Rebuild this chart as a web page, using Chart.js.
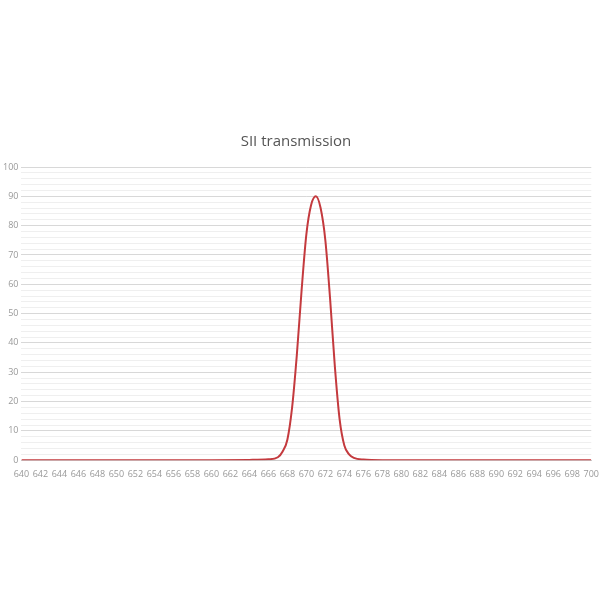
<!DOCTYPE html>
<html><head><script src="https://cdn.jsdelivr.net/npm/chart.js@4"></script>
<style>body{margin:0;background:#fff}#w{position:absolute;left:0;top:133px;width:600px;height:348px}</style></head>
<body><div id="w"><canvas id="c"></canvas></div>
<script>
const wavelengths=[640,650,660,664,666,667,667.5,668,668.5,669,669.5,670,670.5,671,671.5,672,672.5,673,673.5,674,674.5,675,676,678,690,700];
const transmission=[0,0,0,0.1,0.3,1,3,7,18,36,58,77,87,90,86,75,55,32,14,5,2,0.8,0.2,0,0,0];
const pts=wavelengths.map((x,i)=>({x,y:transmission[i]}));
new Chart(document.getElementById('c'),{type:'line',
data:{datasets:[{data:pts,borderColor:'#c43a3e',borderWidth:2,pointRadius:0,tension:0.4,cubicInterpolationMode:'monotone',fill:false}]},
options:{responsive:true,maintainAspectRatio:false,animation:false,
layout:{padding:{left:0,right:8,top:0,bottom:0}},
plugins:{legend:{display:false},title:{display:true,text:'SII transmission',color:'#555',font:{family:'Open Sans',size:15,weight:'normal'},padding:{top:0,bottom:16}}},
scales:{x:{type:'linear',min:640,max:700,ticks:{stepSize:2,color:'#999',font:{family:'Open Sans',size:9},maxRotation:0,autoSkip:false,padding:1},grid:{display:false},border:{color:'#ccc'}},
y:{min:0,max:100,ticks:{stepSize:2,color:'#999',font:{family:'Open Sans',size:9},autoSkip:false,callback:v=>v%10===0?v:''},
grid:{color:c=>c.tick.value%10===0?'#d8d8d8':'#efefef',drawTicks:false},border:{display:false}}}}});
</script></body></html>
